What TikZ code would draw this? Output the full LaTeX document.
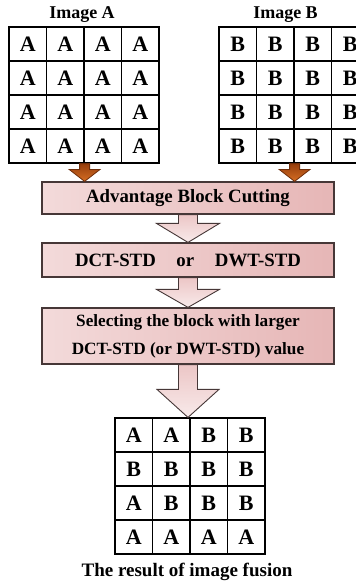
\documentclass[tikz,border=0pt]{standalone}
\usepackage{fontspec}
\setmainfont{Liberation Serif}
\usetikzlibrary{calc}
\definecolor{boxleft}{RGB}{243,218,218}
\definecolor{boxright}{RGB}{230,182,182}
\definecolor{boxedge}{RGB}{70,55,55}
\definecolor{arrowtop}{RGB}{236,198,198}
\definecolor{arrowbot}{RGB}{248,234,234}
\definecolor{browntop}{RGB}{150,62,12}
\definecolor{brownbot}{RGB}{214,110,36}
\definecolor{brownedge}{RGB}{110,45,10}
\tikzstyle{every node}=[font=\bfseries]
\tikzstyle{cell} = [rectangle, draw, line width=1.2pt, minimum width=37.5pt, minimum height=34pt, inner sep=0pt, font=\bfseries\fontsize{22}{22}\selectfont]
\tikzstyle{block} = [rectangle, draw=boxedge, line width=1.2pt, left color=boxleft, right color=boxright, minimum width=292pt, text centered, font=\bfseries\fontsize{18.8}{18.8}\selectfont]
\tikzstyle{hollow} = [draw=boxedge, line width=0.9pt, top color=arrowtop, bottom color=arrowbot]
\tikzstyle{feed} = [draw=brownedge, line width=0.8pt, top color=browntop, bottom color=brownbot]
% style, from, to, head length, shaft half width, head half width
\newcommand{\blockarrow}[6]{%
  \draw [#1] ($(#2)+(-#5,0)$) -- ($(#3)+(-#5,-#4)$) -- ($(#3)+(-#6,-#4)$) -- (#3)
    -- ($(#3)+(#6,-#4)$) -- ($(#3)+(#5,-#4)$) -- ($(#2)+(#5,0)$) -- cycle;}

\begin{document}
\begin{tikzpicture}[x=1pt, y=-1pt]
    \clip (0,0) rectangle (356,582);
    % Place nodes
    \node [font=\bfseries\fontsize{18}{18}\selectfont] (titleA) at (82,15) {Image A};
    \node [font=\bfseries\fontsize{18}{18}\selectfont] (titleB) at (285.5,15) {Image B};
    \foreach \r in {1,...,4}
      \foreach \c in {1,...,4} {
        \node [cell] (A-\r-\c) at ({9+37.5*(\c-0.5)}, {27+34*(\r-0.5)}) {A};
        \node [cell] (B-\r-\c) at ({219+37.5*(\c-0.5)}, {27+34*(\r-0.5)}) {B};
      }
    \node [block, minimum height=32pt] (cut) at (188,198) {Advantage Block Cutting};
    \node [block, minimum height=34pt] (std) at (188,260) {DCT-STD\hspace{1.1em}or\hspace{1.1em}DWT-STD};
    \node [block, minimum height=56pt, align=center, font=\bfseries\fontsize{17.2}{28}\selectfont] (select) at (188,336)
      {Selecting the block with larger\\DCT-STD (or DWT-STD) value};
    \foreach \row [count=\r] in {{A,A,B,B},{B,B,B,B},{A,B,B,B},{A,A,A,A}}
      \foreach \l [count=\c] in \row
        \node [cell] (R-\r-\c) at ({115+37.5*(\c-0.5)}, {418+34*(\r-0.5)}) {\l};
    \node [font=\bfseries\fontsize{19}{19}\selectfont] (result) at (187,572) {The result of image fusion};
    % Draw edges
    \coordinate (tipA) at (cut.north -| A-4-2.south east);
    \coordinate (tipB) at (cut.north -| B-4-2.south east);
    \coordinate (tipR) at (select.south |- R-1-2.north east);
    \blockarrow{feed}{A-4-2.south east}{tipA}{12}{5}{15.5}
    \blockarrow{feed}{B-4-2.south east}{tipB}{12}{5}{15.5}
    \blockarrow{hollow}{cut.south}{std.north}{19}{9.5}{31.5}
    \blockarrow{hollow}{std.south}{select.north}{18}{9.5}{31.5}
    \blockarrow{hollow}{select.south}{tipR}{28}{9.5}{31}
\end{tikzpicture}
\end{document}
